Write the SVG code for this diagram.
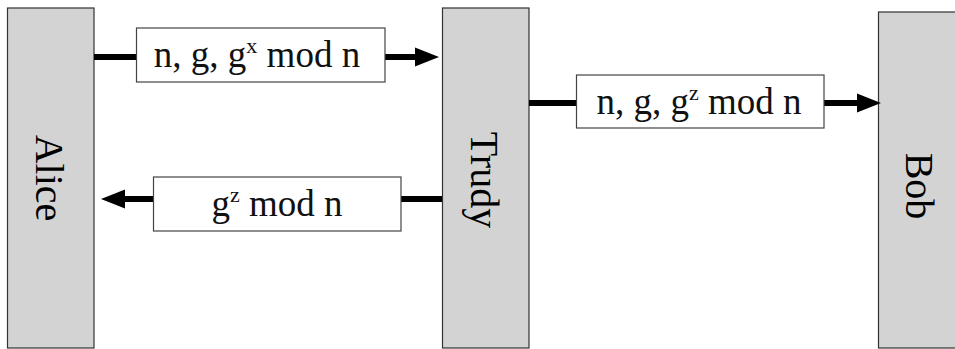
<svg xmlns="http://www.w3.org/2000/svg" width="955" height="349" viewBox="0 0 955 349">
<style>
.party{fill:#d3d3d3;stroke:#333;stroke-width:1.2}
.pname{font-family:"Liberation Serif","Times New Roman",serif;font-size:40px;fill:#000;text-anchor:middle}
.msg{fill:#fff;stroke:#444;stroke-width:1.2}
.mtext{font-family:"Liberation Serif","Times New Roman",serif;font-size:37px;fill:#111;text-anchor:middle}
.sup{font-size:22px}
.conn{stroke:#000;stroke-width:6;fill:none;marker-end:url(#ah)}
</style>
<defs>
<marker id="ah" markerUnits="userSpaceOnUse" markerWidth="25" markerHeight="21" refX="1" refY="10" orient="auto">
<path d="M0,0.5 L24,10 L0,19.5 z" fill="#000"/>
</marker>
</defs>
<rect width="955" height="349" fill="#fff"/>
<g id="alice">
<rect class="party" x="7.5" y="8" width="86.5" height="340"/>
<text class="pname" transform="translate(36,178) rotate(90)">Alice</text>
</g>
<g id="trudy">
<rect class="party" x="442.5" y="8" width="86.5" height="340"/>
<text class="pname" transform="translate(471,180) rotate(90)">Trudy</text>
</g>
<g id="bob">
<rect class="party" x="878.5" y="12" width="86.5" height="336"/>
<text class="pname" transform="translate(906,186) rotate(90)">Bob</text>
</g>
<g id="connectors">
<path class="conn" d="M94,57 H416"/>
<path class="conn" d="M442,199 H124"/>
<path class="conn" d="M529,103 H858"/>
<g id="msg1">
<rect class="msg" x="136.5" y="28" width="248.5" height="54"/>
<text class="mtext" x="257" y="67">n, g, g<tspan class="sup" dy="-14">x</tspan><tspan dy="14"> mod n</tspan></text>
</g>
<g id="msg2">
<rect class="msg" x="153.5" y="177" width="247.5" height="54"/>
<text class="mtext" x="277" y="216">g<tspan class="sup" dy="-14">z</tspan><tspan dy="14"> mod n</tspan></text>
</g>
<g id="msg3">
<rect class="msg" x="576.5" y="75" width="247.5" height="53"/>
<text class="mtext" x="699" y="114">n, g, g<tspan class="sup" dy="-14">z</tspan><tspan dy="14"> mod n</tspan></text>
</g>
</g>
</svg>
